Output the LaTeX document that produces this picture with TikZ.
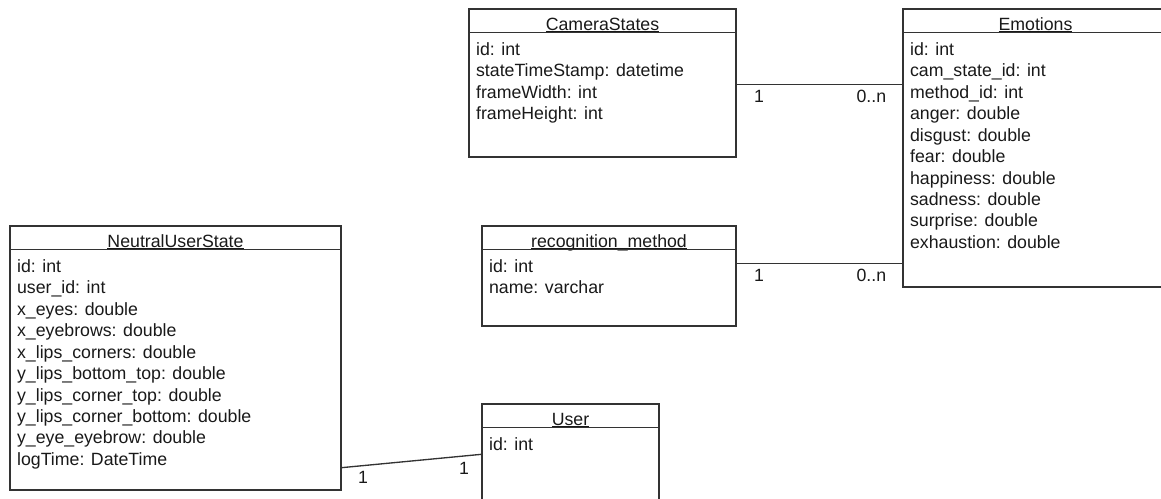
\documentclass[tikz,border=0pt]{standalone}
\usepackage{fontspec}
\setmainfont{Liberation Sans}
\usetikzlibrary{positioning,calc,fit}
\definecolor{umlline}{gray}{0.2}
\definecolor{umltext}{gray}{0.1}
\newcommand{\clsname}[1]{\setbox0\hbox{#1}\rlap{\rule[-1.1pt]{\wd0}{0.6pt}}\box0}

\begin{document}
\begin{tikzpicture}[
  x=0.75pt, y=-0.75pt,
  font=\fontsize{13.3}{16.1}\selectfont, text=umltext,
  cls/.style={draw=umlline, line width=1pt, inner sep=0pt},
  ttl/.style={anchor=base, inner sep=0pt},
  attrs/.style={anchor=north west, align=left, inner sep=0pt},
  div/.style={draw=umlline, line width=1pt},
  assoc/.style={draw=umlline, line width=1pt},
  lab/.style={anchor=base, inner sep=0pt, yshift=-13.7pt}
]
\useasboundingbox (0,0) rectangle (1161,499);

% classes
\node[cls, fit={(469,9) (736,157)}] (cam) {};
\node[ttl] (camT) at ($(cam.north)+(0,22)$) {\clsname{CameraStates}};
\draw[div] ($(cam.north west)+(0,24)$) -- ($(cam.north east)+(0,24)$);
\node[attrs] (camA) at ($(cam.north west)+(7.5,33.8)$) {id: int\\stateTimeStamp: datetime\\frameWidth: int\\frameHeight: int};

\node[cls, fit={(903,9) (1168,287)}] (emo) {};
\node[ttl] (emoT) at ($(emo.north)+(0,22)$) {\clsname{Emotions}};
\draw[div] ($(emo.north west)+(0,24)$) -- ($(emo.north east)+(0,24)$);
\node[attrs] (emoA) at ($(emo.north west)+(7.5,33.8)$) {id: int\\cam\_state\_id: int\\method\_id: int\\anger: double\\disgust: double\\fear: double\\happiness: double\\sadness: double\\surprise: double\\exhaustion: double};

\node[cls, fit={(10,226) (341,490)}] (nus) {};
\node[ttl] (nusT) at ($(nus.north)+(0,22)$) {\clsname{NeutralUserState}};
\draw[div] ($(nus.north west)+(0,24)$) -- ($(nus.north east)+(0,24)$);
\node[attrs] (nusA) at ($(nus.north west)+(7.5,33.8)$) {id: int\\user\_id: int\\x\_eyes: double\\x\_eyebrows: double\\x\_lips\_corners: double\\y\_lips\_bottom\_top: double\\y\_lips\_corner\_top: double\\y\_lips\_corner\_bottom: double\\y\_eye\_eyebrow: double\\logTime: DateTime};

\node[cls, fit={(482,226) (736,326)}] (rec) {};
\node[ttl] (recT) at ($(rec.north)+(0,22)$) {\clsname{recognition\_method}};
\draw[div] ($(rec.north west)+(0,24)$) -- ($(rec.north east)+(0,24)$);
\node[attrs] (recA) at ($(rec.north west)+(7.5,33.8)$) {id: int\\name: varchar};

\node[cls, fit={(482,404) (659,520)}] (usr) {};
\node[ttl] (usrT) at ($(usr.north)+(0,22)$) {\clsname{User}};
\draw[div] ($(usr.north west)+(0,24)$) -- ($(usr.north east)+(0,24)$);
\node[attrs] (usrA) at ($(usr.north west)+(7.5,33.8)$) {id: int};

% associations
\draw[assoc] ($(cam.north east)+(0,76)$) -- ($(emo.north west)+(0,76)$)
  node[lab, pos=.135] {1} node[lab, pos=.813] {0..n};
\draw[assoc] ($(rec.north east)+(0,38)$) -- ($(emo.north west)+(0,255)$)
  node[lab, pos=.135] {1} node[lab, pos=.813] {0..n};
\draw[assoc] ($(nus.south east)+(0,-23)$) -- ($(usr.north west)+(0,51)$)
  node[lab, pos=.153] {1} node[lab, pos=.876] {1};
\end{tikzpicture}
\end{document}
